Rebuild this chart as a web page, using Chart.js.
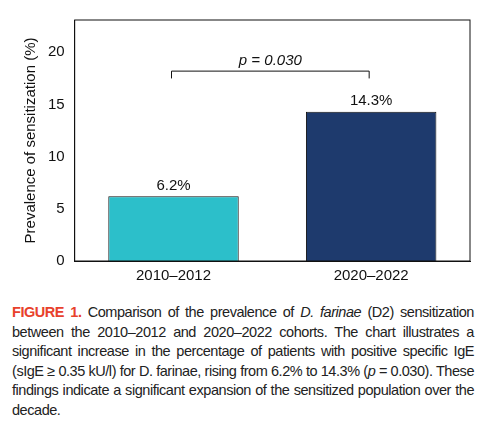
<!DOCTYPE html>
<html><head><meta charset="utf-8">
<script src="https://cdn.jsdelivr.net/npm/chart.js@4/dist/chart.umd.min.js"></script>
<style>
body{margin:0;background:#fff;font-family:"Liberation Sans",sans-serif;}
#wrap{position:relative;width:480px;height:295px;}
#cap{position:absolute;left:12px;top:303px;width:462px;font-size:14.5px;line-height:19.5px;color:#222;text-align:justify;letter-spacing:-0.45px;word-spacing:-0.5px;hyphens:manual;}
#cap b{color:#e8412c;}
</style></head><body>
<div id="wrap"><canvas id="c" width="480" height="295"></canvas></div>
<div id="cap"><b>FIGURE 1.</b> Comparison of the prevalence of <i>D. farinae</i> (D2) sensiti&shy;zation between the 2010–2012 and 2020–2022 cohorts. The chart illustrates a significant increase in the percentage of patients with positive specific IgE (sIgE ≥ 0.35 kU/l) for D. farinae, rising from 6.2% to 14.3% (<i>p</i> = 0.030). These findings indicate a significant expansion of the sensitized population over the decade.</div>
<script>
const categories=["2010–2012","2020–2022"];
const values=[6.2,14.3];
const valueLabels=["6.2%","14.3%"];
const colors=["#2cbfca","#1e3a6d"];
const yTicks=[0,5,10,15,20];
const pLabel="p = 0.030";
const bracketY=18.2;
const FONT='"Liberation Sans",sans-serif';
const ann={id:'ann',afterDatasetsDraw(ch){
 const ctx=ch.ctx,x=ch.scales.x,y=ch.scales.y;
 ctx.save();ctx.fillStyle='#111';ctx.font='15px '+FONT;ctx.textAlign='center';ctx.textBaseline='bottom';
 const m=ch.getDatasetMeta(0);
 m.data.forEach((b,i)=>ctx.fillText(valueLabels[i],b.x,b.y-3));
 const x1=x.getPixelForValue(0)-2,x2=x.getPixelForValue(1)-2,yy=y.getPixelForValue(bracketY),yd=y.getPixelForValue(bracketY-0.7);
 ctx.strokeStyle='#111';ctx.lineWidth=1;ctx.beginPath();ctx.moveTo(x1,yd);ctx.lineTo(x1,yy);ctx.lineTo(x2,yy);ctx.lineTo(x2,yd);ctx.stroke();
 ctx.font='italic 15px '+FONT;ctx.fillText(pLabel,(x1+x2)/2,yy-3);
 ctx.restore();}};
new Chart(document.getElementById('c'),{type:'bar',
 data:{labels:categories,datasets:[{data:values,backgroundColor:colors,borderColor:'#111',borderWidth:1,barPercentage:0.66,categoryPercentage:1}]},
 options:{responsive:false,animation:false,layout:{padding:{top:20,right:10,left:18,bottom:4}},
  plugins:{legend:{display:false},tooltip:{enabled:false}},
  scales:{x:{grid:{display:false,drawTicks:false},border:{color:'#111'},ticks:{color:'#111',font:{size:15,family:FONT},padding:6}},
   y:{min:0,max:23.1,afterBuildTicks(a){a.ticks=yTicks.map(v=>({value:v}));},grid:{display:false,drawTicks:true,tickLength:6,tickColor:'#111'},border:{color:'#111'},
    ticks:{color:'#111',font:{size:15,family:FONT},padding:4},
    title:{display:true,text:'Prevalence of sensitization (%)',color:'#111',font:{size:15,family:FONT}}}}},
 plugins:[ann,{id:'box',afterDraw(ch){const a=ch.chartArea,c=ch.ctx;c.save();c.strokeStyle='#111';c.lineWidth=1;c.strokeRect(a.left,a.top,a.right-a.left,a.bottom-a.top);c.restore();}}]});
</script></body></html>
